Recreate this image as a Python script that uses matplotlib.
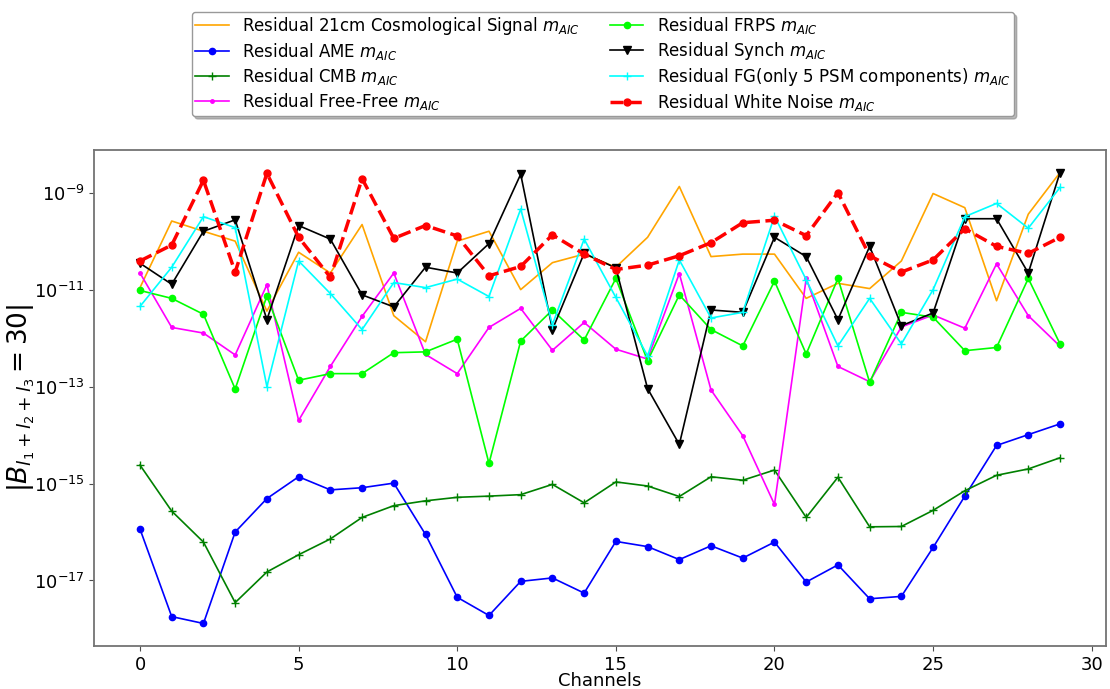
import matplotlib
matplotlib.use("Agg")
import matplotlib.pyplot as plt
import numpy as np

channels = list(range(30))

res_21cm = [1.1e-11, 2.6e-10, 1.6e-10, 1.0e-10, 3.6e-12, 5.9e-11, 2.2e-11, 2.2e-10, 2.9e-12, 8.4e-13,
            1.0e-10, 1.6e-10, 1.0e-11, 3.6e-11, 5.4e-11, 2.9e-11, 1.2e-10, 1.34e-9, 4.8e-11, 5.4e-11,
            5.4e-11, 6.6e-12, 1.35e-11, 1.05e-11, 3.9e-11, 9.6e-10, 4.9e-10, 5.9e-12, 3.6e-10, 2.6e-9]
res_ame = [1.15e-16, 1.8e-18, 1.3e-18, 1.0e-16, 4.9e-16, 1.38e-15, 7.4e-16, 8.2e-16, 1.02e-15, 8.9e-17,
           4.5e-18, 1.9e-18, 9.6e-18, 1.13e-17, 5.5e-18, 6.4e-17, 5.0e-17, 2.7e-17, 5.2e-17, 2.9e-17,
           6.2e-17, 9.3e-18, 2.1e-17, 4.2e-18, 4.7e-18, 4.8e-17, 5.5e-16, 6.1e-15, 1.02e-14, 1.7e-14]
res_cmb = [2.4e-15, 2.7e-16, 6.2e-17, 3.5e-18, 1.5e-17, 3.4e-17, 7.2e-17, 2.0e-16, 3.5e-16, 4.4e-16,
           5.2e-16, 5.5e-16, 5.9e-16, 9.6e-16, 4.0e-16, 1.08e-15, 8.9e-16, 5.4e-16, 1.38e-15, 1.17e-15,
           1.9e-15, 2.0e-16, 1.35e-15, 1.28e-16, 1.3e-16, 2.8e-16, 7.1e-16, 1.48e-15, 2.0e-15, 3.4e-15]
res_ff = [2.2e-11, 1.66e-12, 1.27e-12, 4.5e-13, 1.26e-11, 2.0e-14, 2.6e-13, 2.8e-12, 2.2e-11, 4.6e-13,
          1.85e-13, 1.66e-12, 4.1e-12, 5.6e-13, 2.1e-12, 5.9e-13, 3.7e-13, 2.15e-11, 8.5e-14, 9.7e-15,
          3.7e-16, 1.7e-11, 2.6e-13, 1.26e-13, 1.7e-12, 3.0e-12, 1.6e-12, 3.4e-11, 2.9e-12, 6.8e-13]
res_frps = [9.6e-12, 6.6e-12, 3.1e-12, 8.9e-14, 7.4e-12, 1.35e-13, 1.85e-13, 1.85e-13, 5.0e-13, 5.2e-13,
            9.5e-13, 2.6e-15, 8.7e-13, 3.8e-12, 9.1e-13, 1.7e-11, 3.4e-13, 7.8e-12, 1.5e-12, 6.9e-13,
            1.5e-11, 4.7e-13, 1.7e-11, 1.22e-13, 3.4e-12, 2.7e-12, 5.5e-13, 6.4e-13, 1.7e-11, 7.6e-13]
res_synch = [3.5e-11, 1.29e-11, 1.6e-10, 2.75e-10, 2.4e-12, 2.1e-10, 1.1e-10, 7.8e-12, 4.4e-12, 2.9e-11,
             2.2e-11, 8.9e-11, 2.4e-9, 1.5e-12, 5.6e-11, 2.8e-11, 9.1e-14, 6.4e-15, 3.8e-12, 3.4e-12,
             1.2e-10, 4.8e-11, 2.4e-12, 7.8e-11, 1.8e-12, 3.3e-12, 2.9e-10, 2.9e-10, 2.2e-11, 2.6e-9]
res_fg = [4.5e-12, 2.9e-11, 3.2e-10, 1.9e-10, 1.0e-13, 3.9e-11, 8.3e-12, 1.5e-12, 1.4e-11, 1.1e-11,
          1.65e-11, 7.2e-12, 4.6e-10, 1.9e-12, 1.1e-10, 6.9e-12, 4.3e-13, 4.1e-11, 2.6e-12, 3.4e-12,
          3.3e-10, 1.6e-11, 6.9e-13, 6.6e-12, 7.6e-13, 1.0e-11, 3.2e-10, 6.0e-10, 1.85e-10, 1.28e-9]
res_wn = [3.9e-11, 8.3e-11, 1.8e-9, 2.3e-11, 2.5e-9, 1.2e-10, 1.8e-11, 1.95e-9, 1.14e-10, 2.1e-10,
          1.28e-10, 1.93e-11, 3.0e-11, 1.35e-10, 5.4e-11, 2.6e-11, 3.2e-11, 5.0e-11, 9.3e-11, 2.4e-10,
          2.7e-10, 1.3e-10, 1.0e-9, 5.0e-11, 2.3e-11, 4.1e-11, 1.8e-10, 7.8e-11, 5.6e-11, 1.2e-10]

labels = [r"Residual 21cm Cosmological Signal $m_{AIC}$",
          r"Residual AME $m_{AIC}$",
          r"Residual CMB $m_{AIC}$",
          r"Residual Free-Free $m_{AIC}$",
          r"Residual FRPS $m_{AIC}$",
          r"Residual Synch $m_{AIC}$",
          r"Residual FG(only 5 PSM components) $m_{AIC}$",
          r"Residual White Noise $m_{AIC}$"]

fig = plt.figure(figsize=(11.1, 6.89), dpi=100)
ax = fig.add_axes([94/1110, 1-646/689, (1106-94)/1110, (646-150)/689])

ax.plot(channels, res_21cm, color="orange", lw=1.2, label=labels[0])
ax.plot(channels, res_ame, color="blue", lw=1.2, marker="o", ms=4.5, label=labels[1])
ax.plot(channels, res_cmb, color="green", lw=1.2, marker="+", ms=6, label=labels[2])
ax.plot(channels, res_ff, color="magenta", lw=1.2, marker=".", ms=5, label=labels[3])
ax.plot(channels, res_frps, color="lime", lw=1.2, marker="o", ms=4.5, label=labels[4])
ax.plot(channels, res_synch, color="black", lw=1.2, marker="v", ms=6, label=labels[5])
ax.plot(channels, res_fg, color="cyan", lw=1.2, marker="+", ms=6, label=labels[6])
ax.plot(channels, res_wn, color="red", lw=2.5, ls="--", marker="o", ms=5, label=labels[7])

ax.set_yscale("log")
ax.set_yticks([1e-17, 1e-15, 1e-13, 1e-11, 1e-9])
ax.yaxis.set_minor_locator(matplotlib.ticker.NullLocator())
ax.set_xticks([0, 5, 10, 15, 20, 25, 30])
ax.tick_params(labelsize=13, length=3.5, width=0.8, color="0.3")
for s in ax.spines.values():
    s.set_color("0.45")
    s.set_linewidth(1.3)

ax.set_xlabel("Channels", fontsize=13, labelpad=-1)
ax.set_ylabel(r"$|B_{l_1+l_2+l_3}=30|$", fontsize=19)
ax.yaxis.set_label_coords(-0.056, 0.5)

fig.legend(loc="upper center", bbox_to_anchor=(603/1110, 1-12/689), ncol=2,
           fontsize=12, shadow={"color": "0.55", "alpha": 0.6}, fancybox=True,
           edgecolor="0.6", framealpha=1, borderaxespad=0, borderpad=0.2,
           labelspacing=0.23, columnspacing=1.8)

fig.savefig("out.png", dpi=100)
